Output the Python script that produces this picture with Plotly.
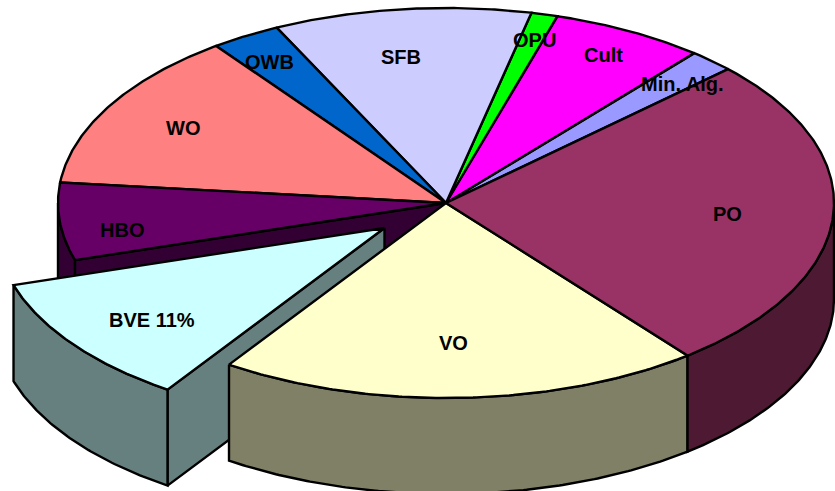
import math
import plotly.graph_objects as go

# Slices counter-clockwise, starting at the VO/PO boundary
labels = ["PO", "Min. Alg.", "Cult", "OPU", "SFB", "OWB", "WO", "HBO", "BVE 11%", "VO"]
values = [26.3, 1.9, 6.4, 1.1, 10.7, 2.9, 13.2, 6.4, 10.8, 20.1]
top_colors = ["#993366", "#9999FF", "#FF00FF", "#00FF00", "#CCCCFF", "#0066CC", "#FF8080", "#660066", "#CCFFFF", "#FFFFCC"]
side_colors = ["#4D1933", "#4D4D80", "#800080", "#008000", "#666680", "#003366", "#804040", "#330033", "#668080", "#808066"]

# Label placement: fraction of the radius along the slice's mid-angle, then a small pixel nudge
label_radius = [0.72, 0.885, 0.856, 0.877, 0.754, 0.88, 0.78, 0.835, 0.747, 0.72]
label_nudge = [(3, 1), (1, 7), (0, -1), (2, 2), (-12, 0), (0, 6), (-1, 1), (-2, 11), (0, 5), (-3, 0)]

W, H = 835, 491
CX, CY, RX, RY, DEPTH = 446, 203, 388, 195, 96
START = -51.5
EXPLODED = "BVE 11%"
OFFSET = (-61.5, 25)

total = sum(values)
spans = {}
a = START
for lab, v in zip(labels, values):
    spans[lab] = (a, a + v / total * 360)
    a = spans[lab][1]


def center(lab):
    return (CX + OFFSET[0], CY + OFFSET[1]) if lab == EXPLODED else (CX, CY)


def rim(lab, a0, a1, dz=0):
    cx, cy = center(lab)
    n = max(2, int(abs(a1 - a0) * 2))
    pts = [a0 + (a1 - a0) * i / n for i in range(n + 1)]
    return ([cx + RX * math.cos(math.radians(t)) for t in pts],
            [cy - RY * math.sin(math.radians(t)) + dz for t in pts])


fig = go.Figure()


def poly(xs, ys, color):
    fig.add_trace(go.Scatter(x=xs + xs[:1], y=ys + ys[:1], mode="lines", fill="toself",
                             fillcolor=color, line=dict(color="black", width=2.4),
                             hoverinfo="skip", showlegend=False))


def top(lab):
    a0, a1 = spans[lab]
    xs, ys = rim(lab, a0, a1)
    cx, cy = center(lab)
    poly([cx] + xs, [cy] + ys, top_colors[labels.index(lab)])


def wall(lab, a0, a1):
    xs, ys = rim(lab, a0, a1)
    xb, yb = rim(lab, a1, a0, DEPTH)
    poly(xs + xb, ys + yb, side_colors[labels.index(lab)])


def cut_wall(lab, angle):
    xs, ys = rim(lab, angle, angle)
    cx, cy = center(lab)
    poly([cx, xs[0], xs[0], cx], [cy, ys[0], ys[0] + DEPTH, cy + DEPTH], side_colors[labels.index(lab)])


# Back parts first
wall("HBO", 180, spans["HBO"][1])
cut_wall("HBO", spans["HBO"][1])
for lab in ["Min. Alg.", "Cult", "OPU", "SFB", "OWB", "WO", "HBO"]:
    top(lab)
# Exploded slice
cut_wall("BVE 11%", spans["BVE 11%"][1])
wall("BVE 11%", *spans["BVE 11%"])
top("BVE 11%")
# Front slices
wall("VO", *spans["VO"])
wall("PO", spans["VO"][1], 360)
top("VO")
top("PO")

for lab, fr, (nx, ny) in zip(labels, label_radius, label_nudge):
    a0, a1 = spans[lab]
    m = math.radians((a0 + a1) / 2)
    cx, cy = center(lab)
    fig.add_annotation(x=cx + fr * RX * math.cos(m) + nx, y=cy - fr * RY * math.sin(m) + ny, text=lab,
                       showarrow=False, font=dict(family="Liberation Sans", size=20, color="black", weight="bold"))

fig.update_layout(width=W, height=H, margin=dict(l=0, r=0, t=0, b=0),
                  paper_bgcolor="white", plot_bgcolor="white", showlegend=False,
                  xaxis=dict(range=[0, W], visible=False, fixedrange=True),
                  yaxis=dict(range=[H, 0], visible=False, fixedrange=True))
fig.write_html("out.html", config=dict(displayModeBar=False),
               post_script="document.body.style.margin='0';document.body.style.overflow='hidden';")
